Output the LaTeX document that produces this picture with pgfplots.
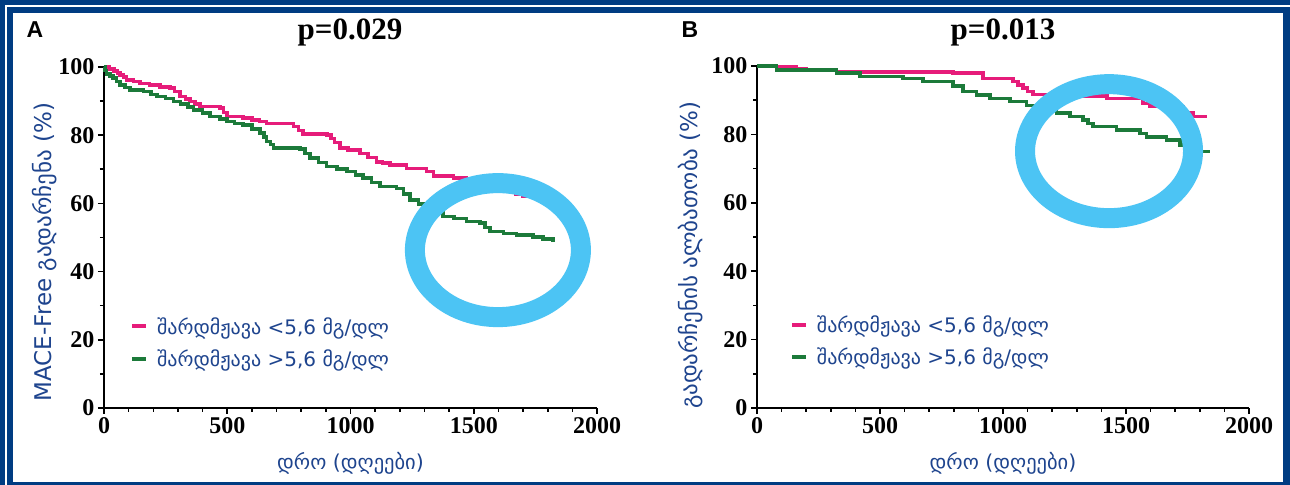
\documentclass[border=0pt]{standalone}
\usepackage{fontspec}
\usepackage{pgfplots}
\pgfplotsset{compat=1.18}
\setmainfont{Liberation Serif}
\newfontfamily\geo{DejaVu Sans}
\newfontfamily\arl{Liberation Sans}
\definecolor{framec}{RGB}{0,60,130}
\definecolor{pinkc}{RGB}{230,28,122}
\definecolor{greenc}{RGB}{28,122,58}
\definecolor{ringc}{RGB}{76,196,244}
\definecolor{textblue}{RGB}{30,68,142}

\pgfplotsset{
  km/.style={
    scale only axis, anchor=south west,
    xmin=0, xmax=2000, ymin=0, ymax=100,
    xtick={0,500,...,2000}, ytick={0,20,...,100},
    minor x tick num=4, minor y tick num=1,
    axis x line*=bottom, axis y line*=left,
    axis line style={line width=2bp, black, -},
    tick align=outside,
    major tick length=6bp, minor tick length=4bp,
    every tick/.style={black, line width=1.6bp},
    /pgf/number format/assume math mode=true,
    /pgf/number format/set thousands separator={},
    tick label style={font=\fontsize{24bp}{24bp}\selectfont\bfseries},
    label style={text=textblue},
    x label style={at={(axis description cs:0.5,-0.161)}, anchor=center,
      font=\geo\fontsize{20.5bp}{22bp}\selectfont},
    y label style={font=\geo\fontsize{23bp}{24bp}\selectfont},
    clip=false,
    legend style={draw=none, fill=none, anchor=west, inner sep=0pt,
      font=\geo\fontsize{20bp}{24bp}\selectfont\color{textblue},
      row sep=10bp, cells={anchor=west}},
    legend image code/.code={\draw[#1, line width=4bp] (0bp,0bp) -- (14bp,0bp);
      \path (21bp,0bp);},
  },
  pinkline/.style={const plot, color=pinkc, line width=3.5bp},
  greenline/.style={const plot, color=greenc, line width=3.5bp},
}

\begin{document}
\begin{tikzpicture}
\useasboundingbox (0,0) rectangle (1290bp,485bp);
\fill[framec] (0,0) rectangle (1290bp,485bp);
\fill[white] (5bp,0) rectangle (6.7bp,480bp);
\fill[white] (5bp,478.3bp) rectangle (1290bp,480bp);
\fill[white] (13bp,2.5bp) rectangle (1283bp,472bp);

\node[font=\arl\bfseries\fontsize{23bp}{23bp}\selectfont] at (35bp,455bp) {A};
\node[font=\arl\bfseries\fontsize{23bp}{23bp}\selectfont] at (690bp,455bp) {B};
\node[anchor=base, font=\bfseries\fontsize{31bp}{31bp}\selectfont] at (350bp,445bp) {p=0.029};
\node[anchor=base, font=\bfseries\fontsize{31bp}{31bp}\selectfont] at (1003bp,445bp) {p=0.013};

\begin{axis}[km, at={(104bp,77bp)}, width=493bp, height=341bp,
  xlabel={დრო (დღეები)},
  ylabel={MACE-Free გადარჩენა (\%)},
  y label style={at={(axis description cs:-0.12,0.457)}, anchor=center},
  legend style={at={(axis description cs:0.053,0.192)}}]
\addplot[pinkline] coordinates {
 (0,100) (20,99.4) (40,98.8) (55,98.2) (65,97.7) (80,97) (92,96.2)
 (120,95.7) (146,95.2) (185,94.7) (227,94.2) (268,93.8) (285,92.8)
 (308,91.4) (330,90.6) (349,89.9) (370,89.1) (389,88.4) (470,88)
 (485,86.7) (498,85.5) (564,85) (600,84.4) (630,84) (660,83.5) (768,82.5)
 (790,81.4) (808,80.4) (904,80) (920,79) (935,77.8) (957,76.2) (990,75.7)
 (1039,74.7) (1070,73.5) (1106,72.2) (1130,71.8) (1160,71.3) (1228,70.3)
 (1309,69.3) (1336,68.1) (1417,67.4) (1470,66.8) (1520,66.2) (1560,65.3)
 (1600,64.5) (1640,63.6) (1670,62.8) (1700,62.1) (1730,61.5)
};
\addlegendentry{შარდმჟავა <5,6 მგ/დლ}
\addplot[greenline] coordinates {
 (0,100) (5,99) (10,98) (25,97.3) (37,96.8) (50,95.8) (65,94.7) (85,94)
 (105,93.3) (160,92.8) (190,92) (214,91.4) (250,90.7) (282,89.9)
 (310,89.1) (340,88.2) (363,87.4) (400,86.5) (430,85.5) (470,84.7)
 (498,84) (530,83.5) (564,83) (600,81.8) (633,80.6) (650,79.4) (660,78.2)
 (675,77.2) (687,76.2) (795,76) (815,74.6) (836,73.3) (870,72) (903,70.8)
 (945,70.1) (985,69.4) (1020,68.4) (1051,67.4) (1085,66.2) (1120,64.9)
 (1187,64.4) (1215,62.7) (1241,61) (1275,59.8) (1309,58.6) (1340,57.4)
 (1376,56.2) (1420,55.5) (1471,54.7) (1525,54.2) (1545,53) (1566,51.7)
 (1620,51.2) (1674,50.7) (1741,50.2) (1780,49.5) (1822,48.8)
};
\addlegendentry{შარდმჟავა >5,6 მგ/დლ}
\draw[ringc, line width=20bp] (axis cs:1598,46.3) ellipse [x radius=83bp, y radius=67bp];
\end{axis}

\begin{axis}[km, at={(757bp,77bp)}, width=492bp, height=342bp,
  xlabel={დრო (დღეები)},
  ylabel={გადარჩენის ალბათობა (\%)},
  y label style={at={(axis description cs:-0.136,0.447)}, anchor=center},
  legend style={at={(axis description cs:0.067,0.197)}}]
\addplot[pinkline] coordinates {
 (0,100) (12,99.8) (161,99.3) (202,98.8) (324,98.3) (797,97.9) (919,96.4)
 (1041,95.4) (1060,94.4) (1081,93.5) (1100,92.6) (1122,91.7) (1250,91.2)
 (1422,90.5) (1569,89.1) (1598,88.1) (1732,86.2) (1772,85.2) (1828,85.2)
};
\addlegendentry{შარდმჟავა <5,6 მგ/დლ}
\addplot[greenline] coordinates {
 (0,100) (80,98.8) (324,97.9) (419,96.9) (594,96.4) (675,95.4) (797,94.2)
 (838,92.5) (893,91.5) (947,90.5) (1028,89.6) (1096,88.4) (1150,87.6)
 (1218,86.2) (1272,85.2) (1325,84.2) (1345,83.2) (1366,82.3) (1462,81.3)
 (1557,80.3) (1584,79.3) (1665,78.4) (1719,76.9) (1772,75) (1833,74.6)
};
\addlegendentry{შარდმჟავა >5,6 მგ/დლ}
\draw[ringc, line width=20bp] (axis cs:1431,75.1) ellipse [x radius=84bp, y radius=67bp];
\end{axis}
\end{tikzpicture}
\end{document}
